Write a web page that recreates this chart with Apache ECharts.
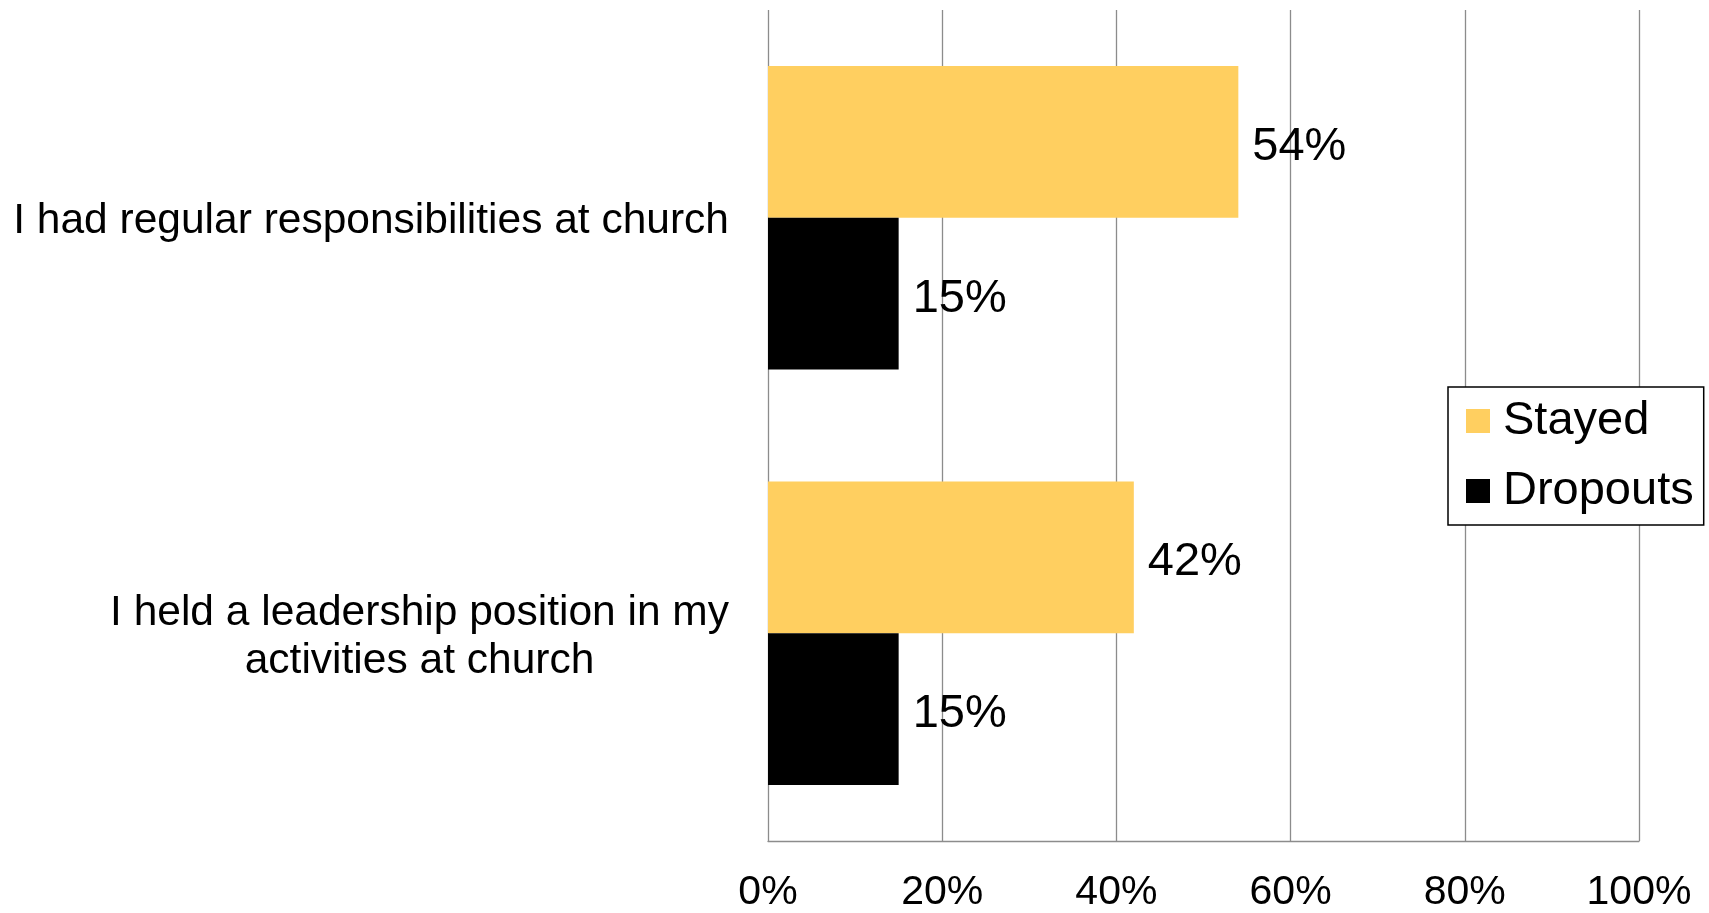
<!DOCTYPE html>
<html>
<head>
<meta charset="utf-8">
<script src="https://cdn.jsdelivr.net/npm/echarts@6/dist/echarts.min.js"></script>
<style>
html,body{margin:0;padding:0;background:#fff;}
#chart{width:1709px;height:913px;}
</style>
</head>
<body>
<div id="chart"></div>
<script>
const categories = ["I had regular responsibilities at church", "I held a leadership position in my\nactivities at church"];
const seriesNames = ["Stayed", "Dropouts"];
const stayedValues = [54, 42];
const dropoutValues = [15, 15];
const xTicks = { min: 0, max: 100, interval: 20 };

const FONT = "Liberation Sans, Arial, sans-serif";
const chart = echarts.init(document.getElementById('chart'));
chart.setOption({
  backgroundColor: '#ffffff',
  animation: false,
  textStyle: { fontFamily: FONT },
  grid: { left: 768, right: 70, top: 10, bottom: 72, containLabel: false, outerBoundsMode: 'none' },
  legend: {
    orient: 'vertical',
    left: 1448,
    top: 387,
    data: seriesNames,
    icon: 'rect',
    itemWidth: 24,
    itemHeight: 24,
    itemGap: 20,
    padding: [9, 10, 9, 18],
    borderColor: '#000',
    borderWidth: 1.5,
    backgroundColor: '#fff',
    textStyle: { fontFamily: FONT, fontSize: 47, lineHeight: 50, color: '#000', padding: [0, 0, 0, 8] }
  },
  xAxis: {
    type: 'value',
    min: xTicks.min,
    max: xTicks.max,
    interval: xTicks.interval,
    axisLine: { show: true, lineStyle: { color: '#8c8c8c', width: 1.3 } },
    axisTick: { show: false },
    splitLine: { show: true, lineStyle: { color: '#8c8c8c', width: 1.3 } },
    axisLabel: {
      formatter: '{value}%',
      fontFamily: FONT,
      fontSize: 41,
      lineHeight: 46,
      color: '#000',
      margin: 29
    }
  },
  yAxis: {
    type: 'category',
    inverse: true,
    data: categories,
    axisLine: { show: false },
    axisTick: { show: false },
    splitLine: { show: false },
    axisLabel: {
      align: 'right',
      margin: 39,
      padding: [8, 0, 0, 0],
      color: '#000',
      formatter: function (v) {
        return v.split('\n').map(function (l) { return '{c|' + l + '}'; }).join('\n');
      },
      rich: {
        c: { align: 'center', fontFamily: FONT, fontSize: 42.5, lineHeight: 48, color: '#000' }
      }
    }
  },
  series: [
    {
      name: seriesNames[0],
      type: 'bar',
      data: stayedValues,
      barGap: '0%',
      barCategoryGap: '27%',
      itemStyle: { color: '#FFCF60' },
      label: {
        show: true, position: 'right', distance: 14, offset: [0, 5],
        formatter: '{c}%', fontFamily: FONT, fontSize: 47, color: '#000'
      }
    },
    {
      name: seriesNames[1],
      type: 'bar',
      data: dropoutValues,
      barGap: '0%',
      barCategoryGap: '27%',
      itemStyle: { color: '#000000' },
      label: {
        show: true, position: 'right', distance: 14, offset: [0, 5],
        formatter: '{c}%', fontFamily: FONT, fontSize: 47, color: '#000'
      }
    }
  ]
});
</script>
</body>
</html>
